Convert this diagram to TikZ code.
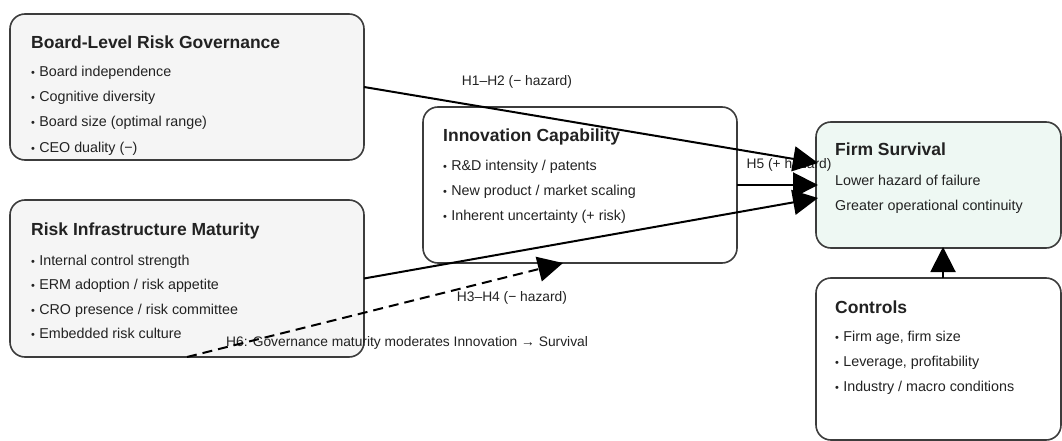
\documentclass[tikz,border=0pt]{standalone}
\usepackage{fontspec}
\setmainfont{Liberation Sans}
\usetikzlibrary{arrows.meta}
\definecolor{txt}{HTML}{222222}
\definecolor{bord}{HTML}{3C3C3C}
\definecolor{grayfill}{HTML}{F5F5F5}
\definecolor{mint}{HTML}{EEF8F3}
\newcommand{\bul}{{\fontsize{11}{12}\selectfont •}\hspace{0.3em}}
\begin{document}
\begin{tikzpicture}[x=1pt,y=-1pt,
  box/.style={draw=bord, line width=1.6pt, rounded corners=15pt, inner sep=0pt, outer sep=0pt},
  ttl/.style={anchor=base west, inner sep=0pt, font=\fontsize{17.5}{20}\selectfont\bfseries, text=txt},
  itm/.style={anchor=base west, inner sep=0pt, font=\fontsize{14.3}{17}\selectfont, text=txt},
  lbl/.style={inner sep=0pt, font=\fontsize{13.8}{16}\selectfont, text=txt},
  arr/.style={draw=black, line width=2pt, -{Triangle[length=25pt,width=25pt]}},
  darr/.style={arr, dash pattern=on 10pt off 6pt}]
\path[clip] (0,0) rectangle (1062,441);
\fill[white] (0,0) rectangle (1062,441);

% boxes
\node[box, fill=grayfill, minimum width=354pt, minimum height=146pt] (A) at (187,87) {};
\node[box, fill=grayfill, minimum width=354pt, minimum height=157pt] (B) at (187,278.5) {};
\node[box, fill=white, minimum width=314pt, minimum height=156pt] (C) at (580,185) {};
\node[box, fill=mint, minimum width=245pt, minimum height=126pt] (D) at (938.5,185) {};
\node[box, fill=white, minimum width=245pt, minimum height=162pt] (E) at (938.5,359) {};

% texts A
\node[ttl] (at) at (31,48.5) {Board-Level Risk Governance};
\node[itm] (a1) at (31,77) {\bul Board independence};
\node[itm] (a2) at (31,102) {\bul Cognitive diversity};
\node[itm] (a3) at (31,127) {\bul Board size (optimal range)};
\node[itm] (a4) at (31,152) {\bul CEO duality (−)};
% texts B
\node[ttl] (bt) at (31,235) {Risk Infrastructure Maturity};
\node[itm] (b1) at (31,265) {\bul Internal control strength};
\node[itm] (b2) at (31,289.5) {\bul ERM adoption / risk appetite};
\node[itm] (b3) at (31,314) {\bul CRO presence / risk committee};
\node[itm] (b4) at (31,338) {\bul Embedded risk culture};
% texts C
\node[ttl] (ct) at (443,141.5) {Innovation Capability};
\node[itm] (c1) at (443,170.5) {\bul R\&D intensity / patents};
\node[itm] (c2) at (443,195.5) {\bul New product / market scaling};
\node[itm] (c3) at (443,220) {\bul Inherent uncertainty (+ risk)};
% texts D
\node[ttl] (dt) at (835,155.5) {Firm Survival};
\node[itm] (d1) at (835,185.5) {Lower hazard of failure};
\node[itm] (d2) at (835,210) {Greater operational continuity};
% texts E
\node[ttl] (et) at (835,313.5) {Controls};
\node[itm] (e1) at (835,341.5) {\bul Firm age, firm size};
\node[itm] (e2) at (835,366.5) {\bul Leverage, profitability};
\node[itm] (e3) at (835,391.5) {\bul Industry / macro conditions};

% labels
\node[lbl] (l12) at (517,82) {H1–H2 (− hazard)};
\node[lbl] (l5) at (789,165) {H5 (+ hazard)};
\node[lbl] (l34) at (512,298) {H3–H4 (− hazard)};
\node[lbl, anchor=west] (l6) at (226,343) {H6: Governance maturity moderates Innovation → Survival};

% connectors
\draw[arr] (A.east) -- ([xshift=2pt,yshift=22pt]D.west);
\draw[arr] (C.east) -- ([xshift=2pt]D.west);
\draw[arr] (B.east) -- ([xshift=2pt,yshift=-13pt]D.west);
\draw[darr] (B.south) -- ([xshift=-17pt]C.south);
\draw[arr] ([xshift=4.5pt]E.north) -- ([xshift=4.5pt,yshift=1pt]D.south);
\end{tikzpicture}
\end{document}
